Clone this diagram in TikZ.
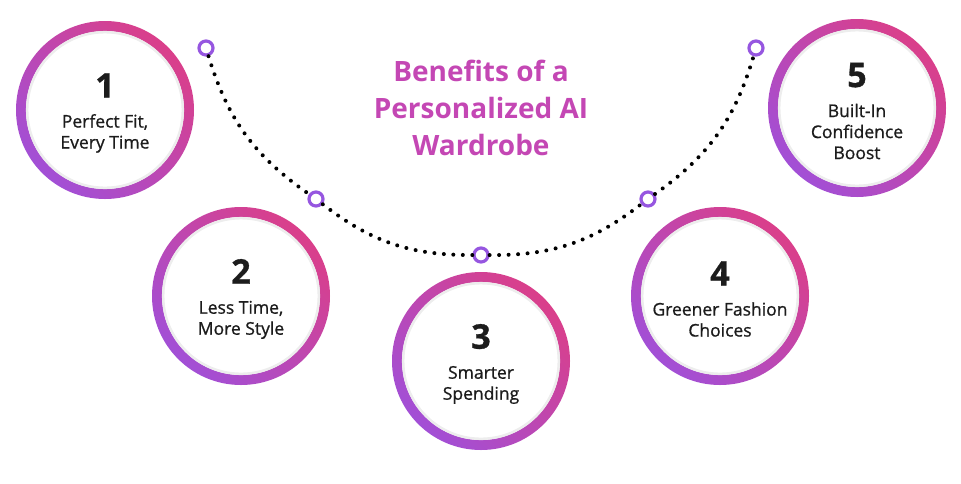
\documentclass[tikz,border=0pt]{standalone}
\usepackage{fontspec}
\setmainfont{Open Sans}
\newfontfamily\labelfont[FakeBold=0.9]{Open Sans}
\usetikzlibrary{positioning, arrows.meta}

\definecolor{ringpurple}{HTML}{A24FD6}
\definecolor{ringpink}{HTML}{DA3F8A}
\definecolor{markviolet}{HTML}{9656E0}
\definecolor{headmagenta}{HTML}{C447B4}
\definecolor{textdark}{HTML}{1C1C1C}

\newcommand{\stepnum}[1]{{\fontsize{34}{34}\selectfont\bfseries #1}\\[9pt]}
\newcommand{\ringaround}[1]{%
  \shade[even odd rule, top color=ringpink, bottom color=ringpurple, shading angle=-45]
    ([yshift=3pt]#1.center) circle (89pt) circle (79pt);
  \draw[black!7, line width=2.5pt] ([yshift=3pt]#1.center) circle (77.8pt);}

\begin{document}
\begin{tikzpicture}[
    x=1pt, y=-1pt,
    benefit/.style={circle, minimum size=150pt, inner sep=0pt, yshift=-3pt, align=center, text=textdark, font=\labelfont\fontsize{17.5}{21}\selectfont},
    marker/.style={circle, draw=markviolet, line width=3.2pt, fill=white, minimum size=14pt, inner sep=0pt},
    trail/.style={line width=4pt, line cap=round, dash pattern=on 0pt off 9.5pt, bend right=19},
    headline/.style={align=center, text=headmagenta, font=\fontsize{28}{37}\selectfont\bfseries}
  ]
    \useasboundingbox (0,0) rectangle (961,483);

    \node[headline] (heading) at (481,108) {Benefits of a\\Personalized AI\\Wardrobe};

    \node[benefit] (fit) at (105,110) {\stepnum{1}Perfect Fit,\\Every Time};
    \node[benefit] (time) at (241,296) {\stepnum{2}Less Time,\\More Style};
    \node[benefit] (spend) at (481,361) {\stepnum{3}Smarter\\Spending};
    \node[benefit] (green) at (720,296) {\stepnum{4}Greener Fashion\\Choices};
    \node[benefit] (boost) at (857,108) {\stepnum{5}Built-In\\Confidence\\Boost};

    \ringaround{fit}
    \ringaround{time}
    \ringaround{spend}
    \ringaround{green}
    \ringaround{boost}

    \node[marker] (m1) at (206,48) {};
    \node[marker] (m2) at (316,199) {};
    \node[marker] (m3) at (481,255) {};
    \node[marker] (m4) at (648,199) {};
    \node[marker] (m5) at (756,48) {};

    \draw[trail] (m1) to (m2);
    \draw[trail] (m2) to (m3);
    \draw[trail] (m3) to (m4);
    \draw[trail] (m4) to (m5);
  \end{tikzpicture}
\end{document}
